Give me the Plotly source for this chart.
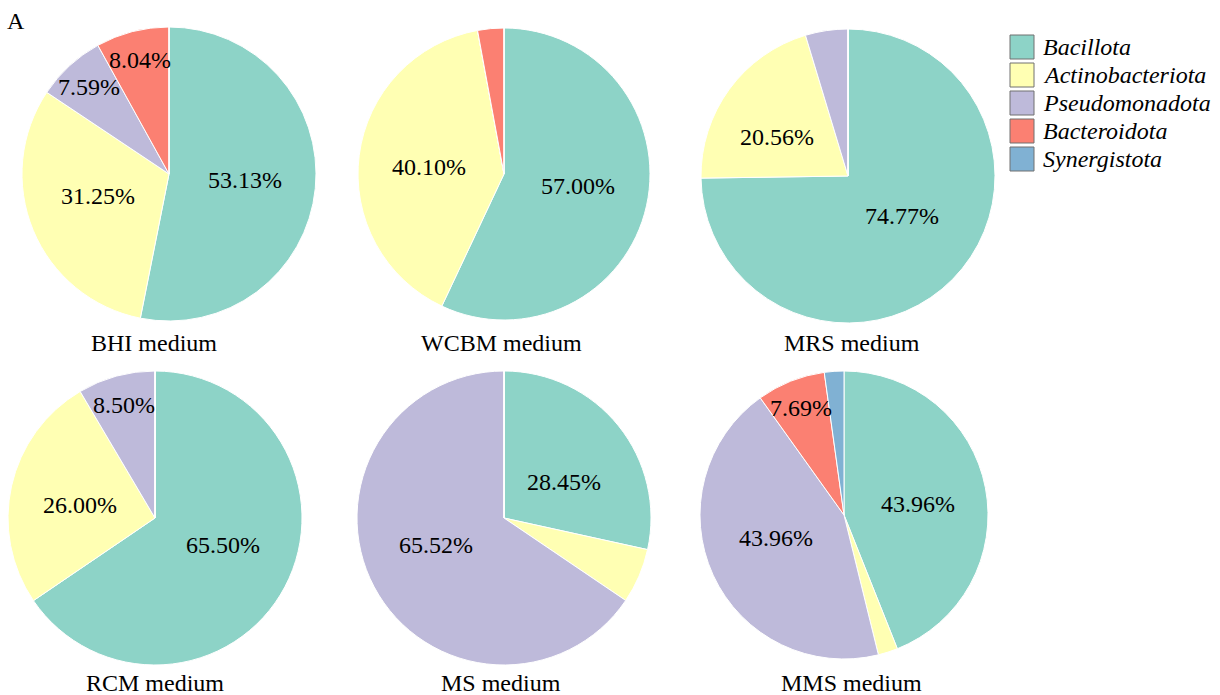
import math
import plotly.graph_objects as go

# Phylum composition of isolates per culture medium (% of isolates)
phyla = ["Bacillota", "Actinobacteriota", "Pseudomonadota", "Bacteroidota", "Synergistota"]
phylum_colors = ["#8DD3C7", "#FFFFB3", "#BEBADA", "#FB8072", "#80B1D3"]

media = ["BHI medium", "WCBM medium", "MRS medium", "RCM medium", "MS medium", "MMS medium"]

bhi = [53.13, 31.25, 7.59, 8.04, 0.0]
wcbm = [57.00, 40.10, 0.0, 2.90, 0.0]
mrs = [74.77, 20.56, 4.67, 0.0, 0.0]
rcm = [65.50, 26.00, 8.50, 0.0, 0.0]
ms = [28.45, 6.03, 65.52, 0.0, 0.0]
mms = [43.96, 2.20, 43.96, 7.69, 2.19]

medium_values = [bhi, wcbm, mrs, rcm, ms, mms]

# Page geometry (pixels)
W, H = 1220, 695
FONT = "Liberation Serif"
FS = 24

# pie centre x, centre y, radius
pie_geom = [(169, 174, 147), (504, 174, 146), (848, 176, 147),
            (155, 518, 147), (504, 518, 147), (844, 515, 144)]
# caption centre positions
caption_pos = [(154, 343), (501, 343), (852, 343),
               (155, 683), (501, 683), (851, 683)]

LABEL_MIN = 7.0   # slices below this share are left unlabelled
Y_SQUASH = 0.75   # flatten label offsets a little towards the horizontal


def px_to_paper(x, y):
    return x / W, 1 - y / H


def label_radius(v):
    if v < 10:
        return 0.80
    if v < 25:
        return 0.60
    return 0.52


fig = go.Figure()
annotations = []

for name, vals, (cx, cy, r), (tx, ty) in zip(media, medium_values, pie_geom, caption_pos):
    x0, y1 = px_to_paper(cx - r, cy - r)
    x1, y0 = px_to_paper(cx + r, cy + r)
    fig.add_trace(go.Pie(
        labels=phyla,
        values=vals,
        sort=False,
        direction="clockwise",
        rotation=0,
        marker=dict(colors=phylum_colors, line=dict(color="white", width=1)),
        textinfo="none",
        hoverinfo="label+percent",
        domain=dict(x=[x0, x1], y=[y0, y1]),
        showlegend=False,
        name=name,
    ))

    # percentage labels at each slice's mid-angle
    total = sum(vals)
    cum = 0.0
    for v in vals:
        if v >= LABEL_MIN:
            theta = 2 * math.pi * (cum + v / 2) / total
            rf = label_radius(v) * r
            sq = Y_SQUASH if v >= 10 else 1.0
            lx, ly = px_to_paper(cx + rf * math.sin(theta), cy - sq * rf * math.cos(theta))
            annotations.append(dict(
                x=lx, y=ly, xref="paper", yref="paper", showarrow=False,
                text=f"{v:.2f}%", font=dict(family=FONT, size=FS, color="black"),
                xanchor="center", yanchor="middle",
            ))
        cum += v

    px, py = px_to_paper(tx, ty)
    annotations.append(dict(
        x=px, y=py, xref="paper", yref="paper", showarrow=False,
        text=name, font=dict(family=FONT, size=FS, color="black"),
        xanchor="center", yanchor="middle",
    ))

# panel letter
ax, ay = px_to_paper(16, 21)
annotations.append(dict(x=ax, y=ay, xref="paper", yref="paper", showarrow=False,
                        text="A", font=dict(family=FONT, size=FS, color="black"),
                        xanchor="center", yanchor="middle"))

# legend drawn as swatches + italic labels
shapes = []
LEG_X, LEG_Y0, LEG_STEP, SW = 1010, 35, 28, 24
for i, (ph, col) in enumerate(zip(phyla, phylum_colors)):
    top = LEG_Y0 + i * LEG_STEP
    sx0, sy1 = px_to_paper(LEG_X, top)
    sx1, sy0 = px_to_paper(LEG_X + SW, top + SW)
    shapes.append(dict(type="rect", xref="paper", yref="paper",
                       x0=sx0, x1=sx1, y0=sy0, y1=sy1,
                       fillcolor=col, line=dict(color="#707070", width=1)))
    lx, ly = px_to_paper(LEG_X + SW + 7, top + SW / 2)
    annotations.append(dict(x=lx, y=ly, xref="paper", yref="paper", showarrow=False,
                            text=f"<i>{ph}</i>",
                            font=dict(family=FONT, size=FS, color="black"),
                            xanchor="left", yanchor="middle"))

fig.update_layout(
    width=W, height=H,
    margin=dict(l=0, r=0, t=0, b=0),
    paper_bgcolor="white",
    plot_bgcolor="white",
    font=dict(family=FONT, size=FS, color="black"),
    annotations=annotations,
    shapes=shapes,
)

fig.write_html("out.html")
